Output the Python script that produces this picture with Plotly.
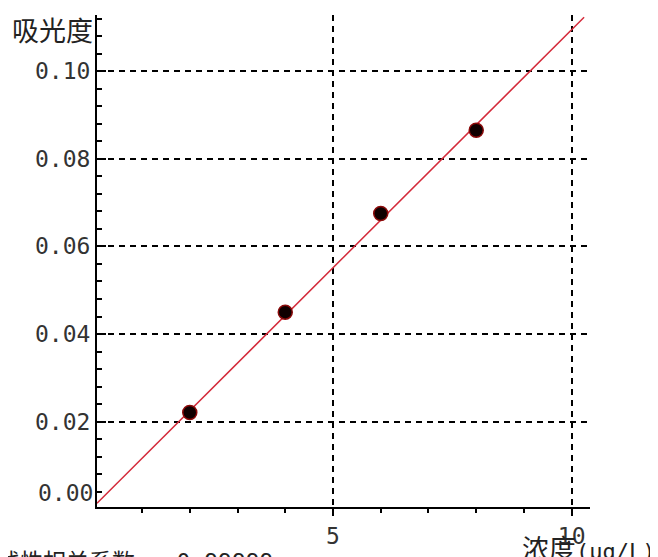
import plotly.graph_objects as go

# data
conc = [2, 4, 6, 8]
absorb = [0.0221, 0.0450, 0.0675, 0.0865]
fit_x = [0.057, 10.26]
fit_y = [0.0014, 0.1123]
y_ticks = [0.02, 0.04, 0.06, 0.08, 0.10]
y_labels = ["0.02", "0.04", "0.06", "0.08", "0.10"]
x_ticks = [5, 10]
x_labels = ["5", "10"]
y_title = "吸光度"
x_title = "浓度"
x_unit = "(μg/L)"
corr_text = "线性相关系数 = 0.99999"

MONO = "DejaVu Sans Mono, Noto Sans CJK SC"
CJK = "Noto Sans CJK SC"

fig = go.Figure()
fig.add_trace(go.Scatter(x=fit_x, y=fit_y, mode="lines",
                         line=dict(color="#d42a3a", width=1.5),
                         showlegend=False, hoverinfo="skip"))
fig.add_trace(go.Scatter(x=conc, y=absorb, mode="markers",
                         marker=dict(size=14, color="#100000",
                                     line=dict(color="#8b0a0a", width=1.5)),
                         showlegend=False))

grid = dict(showgrid=True, gridcolor="black", gridwidth=2, griddash="6px,5px")

fig.update_xaxes(range=[0.057, 10.383], tickvals=x_ticks, ticktext=x_labels,
                 ticks="outside", ticklen=7, tickwidth=1.5, tickcolor="black",
                 showline=True, linecolor="black", linewidth=2,
                 zeroline=False, automargin=False,
                 minor=dict(dtick=1, tick0=0, ticks="outside", ticklen=4,
                            tickwidth=1.5, tickcolor="black", showgrid=False),
                 tickfont=dict(family=MONO, size=23, color="#333"),
                 **grid)
fig.update_yaxes(range=[0.00054, 0.1128], tickvals=y_ticks, ticktext=y_labels,
                 ticks="inside", ticklen=9, tickwidth=1.5, tickcolor="black",
                 showline=True, linecolor="black", linewidth=2,
                 zeroline=False, ticklabelstandoff=0, automargin=False,
                 minor=dict(dtick=0.004, tick0=0, ticks="inside", ticklen=5,
                            tickwidth=1.5, tickcolor="black", showgrid=False),
                 tickfont=dict(family=MONO, size=23, color="#333"),
                 **grid)

annotations = [
    dict(text=y_title, xref="paper", yref="paper", x=-0.004, y=0.9715,
         xanchor="right", yanchor="middle", showarrow=False,
         font=dict(family=CJK, size=27, color="#222")),
    dict(text="0.00", xref="paper", yref="paper", x=-0.004, y=0.0285,
         xanchor="right", yanchor="middle", showarrow=False,
         font=dict(family=MONO, size=23, color="#333")),
    dict(text=f"<span style='font-size:27px'>{x_title}</span>{x_unit}",
         xref="paper", yref="paper", x=(520 - 97) / 493, y=(507 - 549) / 492,
         xanchor="left", yanchor="middle", showarrow=False,
         font=dict(family=MONO, size=22, color="#222")),
    dict(text=corr_text, xref="paper", yref="paper", x=(275 - 97) / 493,
         y=(507 - 562) / 492, xanchor="right", yanchor="middle",
         showarrow=False, font=dict(family=MONO, size=23, color="#222")),
]

# the page body has an 8px margin, so the figure is drawn 8px in from the
# window's top-left corner; size and margins compensate for it
fig.update_layout(width=650, height=549, margin=dict(l=89, r=68, t=7, b=50),
                  plot_bgcolor="white", paper_bgcolor="white",
                  annotations=annotations)

fig.write_html("out.html")
